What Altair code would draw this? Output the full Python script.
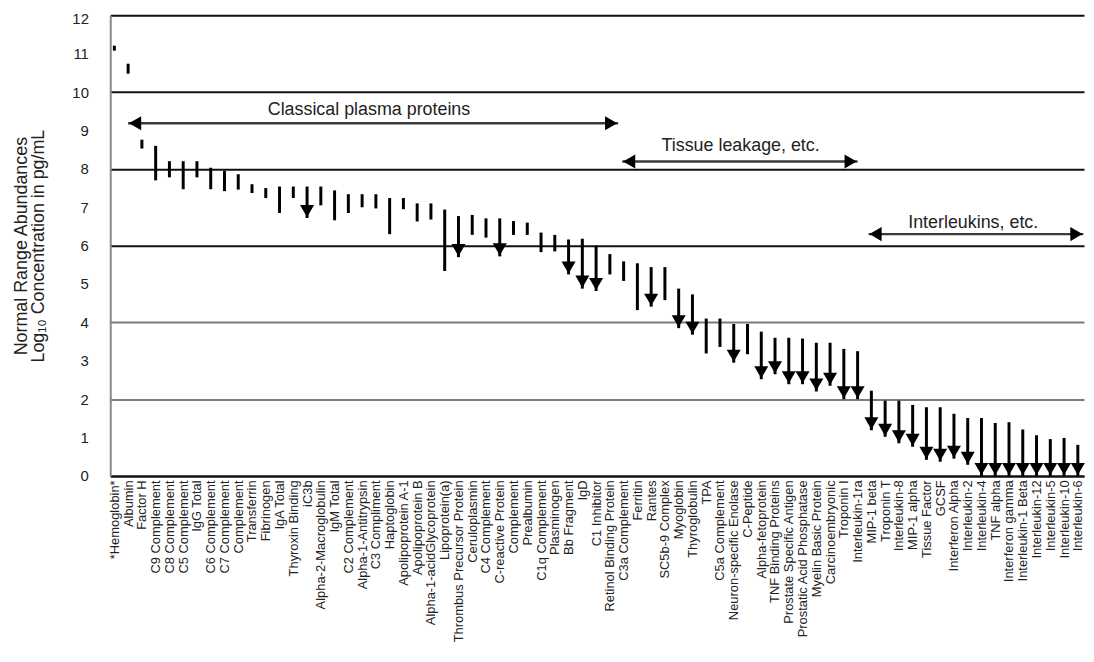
import altair as alt
import pandas as pd

names = [
    "*Hemoglobin*", "Albumin", "Factor H", "C9 Complement", "C8 Complement",
    "C5 Complement", "IgG Total", "C6 Complement", "C7 Complement", "Complement",
    "Transferrin", "Fibrinogen", "IgA Total", "Thyroxin Binding", "iC3b",
    "Alpha-2-Macroglobulin", "IgM Total", "C2 Complement", "Alpha-1-Antitrypsin",
    "C3 Compliment", "Haptoglobin", "Apolipoprotein A-1", "Apolipoprotein B",
    "Alpha-1-acidGlycoprotein", "Lipoprotein(a)", "Thrombus Precursor Protein",
    "Ceruloplasmin", "C4 Complement", "C-reactive Protein", "Complement",
    "Prealbumin", "C1q Complement", "Plasminogen", "Bb Fragment", "IgD",
    "C1 Inhibitor", "Retinol Binding Protein", "C3a Complement", "Ferritin",
    "Rantes", "SC5b-9 Complex", "Myoglobin", "Thyroglobulin", "TPA",
    "C5a Complement", "Neuron-specific Enolase", "C-Peptide", "Alpha-fetoprotein",
    "TNF Binding Proteins", "Prostate Specific Antigen", "Prostatic Acid Phosphatase",
    "Myelin Basic Protein", "Carcinoembryonic", "Troponin I", "Interleukin-1ra",
    "MIP-1 beta", "Troponin T", "Interleukin-8", "MIP-1 alpha", "Tissue Factor",
    "GCSF", "Interferon Alpha", "Interleukin-2", "Interleukin-4", "TNF alpha",
    "Interferon gamma", "Interleukin-1 Beta", "Interleukin-12", "Interleukin-5",
    "Interleukin-10", "Interleukin-6",
]

highs = [
    11.21, 10.74, 8.76, 8.60, 8.20, 8.20, 8.20, 8.03, 7.95, 7.86,
    7.60, 7.50, 7.54, 7.54, 7.54, 7.54, 7.44, 7.34, 7.34, 7.34,
    7.24, 7.24, 7.10, 7.10, 6.94, 6.77, 6.80, 6.71, 6.71, 6.64,
    6.60, 6.34, 6.28, 6.16, 6.18, 6.00, 5.78, 5.59, 5.54, 5.44,
    5.44, 4.88, 4.73, 4.10, 4.10, 3.96, 3.96, 3.76, 3.60, 3.60,
    3.58, 3.47, 3.47, 3.31, 3.25, 2.22, 1.96, 1.96, 1.85, 1.79,
    1.79, 1.62, 1.51, 1.51, 1.38, 1.40, 1.21, 1.06, 0.96, 0.99,
    0.81,
]

lows = [
    11.08, 10.48, 8.53, 7.70, 7.78, 7.47, 7.78, 7.47, 7.42, 7.46,
    7.37, 7.24, 6.85, 7.24, 6.72, 7.05, 6.66, 6.85, 7.00, 6.97,
    6.30, 6.95, 6.63, 6.68, 5.34, 5.70, 6.28, 6.21, 5.72, 6.28,
    6.28, 5.83, 5.85, 5.25, 4.88, 4.82, 5.25, 5.08, 4.32, 4.41,
    4.58, 3.85, 3.68, 3.19, 3.36, 2.95, 3.17, 2.52, 2.65, 2.39,
    2.39, 2.20, 2.35, 2.00, 2.00, 1.19, 1.02, 0.85, 0.76, 0.42,
    0.37, 0.45, 0.29, 0.00, 0.00, 0.00, 0.00, 0.00, 0.00, 0.00,
    0.00,
]

# True where only an upper limit is known (drawn as a downward arrow)
upper_only = [
    False, False, False, False, False, False, False, False, False, False,
    False, False, False, False, True, False, False, False, False, False,
    False, False, False, False, False, True, False, False, True, False,
    False, False, False, True, True, True, False, False, False, True,
    False, True, True, False, False, True, False, True, True, True,
    True, True, True, True, True, True, True, True, True, True,
    True, True, True, True, True, True, True, True, True, True,
    True,
]

ann_texts = ["Classical plasma proteins", "Tissue leakage, etc.", "Interleukins, etc."]
ann_starts = [1.0, 36.9, 54.8]
ann_ends = [36.6, 54.0, 70.4]
ann_levels = [9.19, 8.19, 6.30]
ann_text_x = [18.5, 45.5, 62.4]
ann_text_y = [9.52, 8.59, 6.60]

FONT = "Liberation Sans"
n = len(names)

df = pd.DataFrame({"idx": list(range(n)), "name": names, "high": highs,
                   "low": lows, "arrow": upper_only})
ann = pd.DataFrame({"text": ann_texts, "start": ann_starts, "end": ann_ends,
                    "level": ann_levels, "tx": ann_text_x, "ty": ann_text_y})

label_expr = "[" + ",".join("'" + s + "'" for s in names) + "][datum.value]"

xscale = alt.Scale(domain=[-0.3, 70.45], nice=False, zero=False)
yscale = alt.Scale(domain=[0, 12], nice=False, zero=False)

x_axis = alt.Axis(
    values=list(range(n)), labelExpr=label_expr, labelAngle=270,
    labelFontSize=13, labelFont=FONT, labelColor="#222", ticks=False,
    grid=False, domainColor="#111", domainWidth=2, labelPadding=4,
    title=None, labelOverlap=False, labelBound=False, labelLimit=300,
)
y_axis = alt.Axis(
    values=list(range(13)), ticks=False, labelFontSize=15, labelFont=FONT,
    labelColor="#222", labelPadding=22, grid=True,
    labelOffset={"condition": {"test": "datum.value == 12", "value": 3}, "value": 0},
    gridColor={"condition": {"test": "datum.value == 2 || datum.value == 4", "value": "#7a7a7a"}, "value": "#111"},
    gridOpacity={"condition": {"test": "datum.value % 2 == 1", "value": 0}, "value": 1},
    gridWidth=2, domainColor="#888", domainWidth=2,
    title=["Normal Range Abundances", "Log₁₀ Concentration in pg/mL"],
    titleFont=FONT, titleFontSize=18, titleFontWeight="normal",
    titleColor="#222", titlePadding=25, titleLineHeight=17,
)


def X(field):
    return alt.X(field, scale=xscale, axis=x_axis)


def Y(field):
    return alt.Y(field, scale=yscale, axis=y_axis)


ranges = alt.Chart(df).mark_rule(strokeWidth=3, color="black").encode(
    x=X("idx:Q"), y=Y("high:Q"), y2="low:Q",
)

heads = alt.Chart(df).transform_filter("datum.arrow").mark_point(
    shape="triangle-down", filled=True, size=200, color="black", opacity=1, yOffset=-7
).encode(x=X("idx:Q"), y=Y("low:Q"))

ann_lines = alt.Chart(ann).mark_rule(strokeWidth=2.5, color="#3a3a3a").encode(
    x=X("start:Q"), x2="end:Q", y=Y("level:Q"),
)
ann_left = alt.Chart(ann).mark_point(
    shape="triangle-left", filled=True, size=200, color="black", opacity=1, xOffset=7
).encode(x=X("start:Q"), y=Y("level:Q"))
ann_right = alt.Chart(ann).mark_point(
    shape="triangle-right", filled=True, size=200, color="black", opacity=1, xOffset=-7
).encode(x=X("end:Q"), y=Y("level:Q"))
ann_text = alt.Chart(ann).mark_text(fontSize=18, font=FONT, color="#222").encode(
    x=X("tx:Q"), y=Y("ty:Q"), text="text:N",
)

chart = alt.layer(ranges, heads, ann_lines, ann_left, ann_right, ann_text).properties(
    width=981, height=464,
    autosize=alt.AutoSizeParams(type="none"),
    padding={"top": 5, "left": 103, "right": 2, "bottom": 178},
    background="white",
).configure_view(stroke=None)

chart.save("out.html", embed_options={"renderer": "svg", "actions": False})
